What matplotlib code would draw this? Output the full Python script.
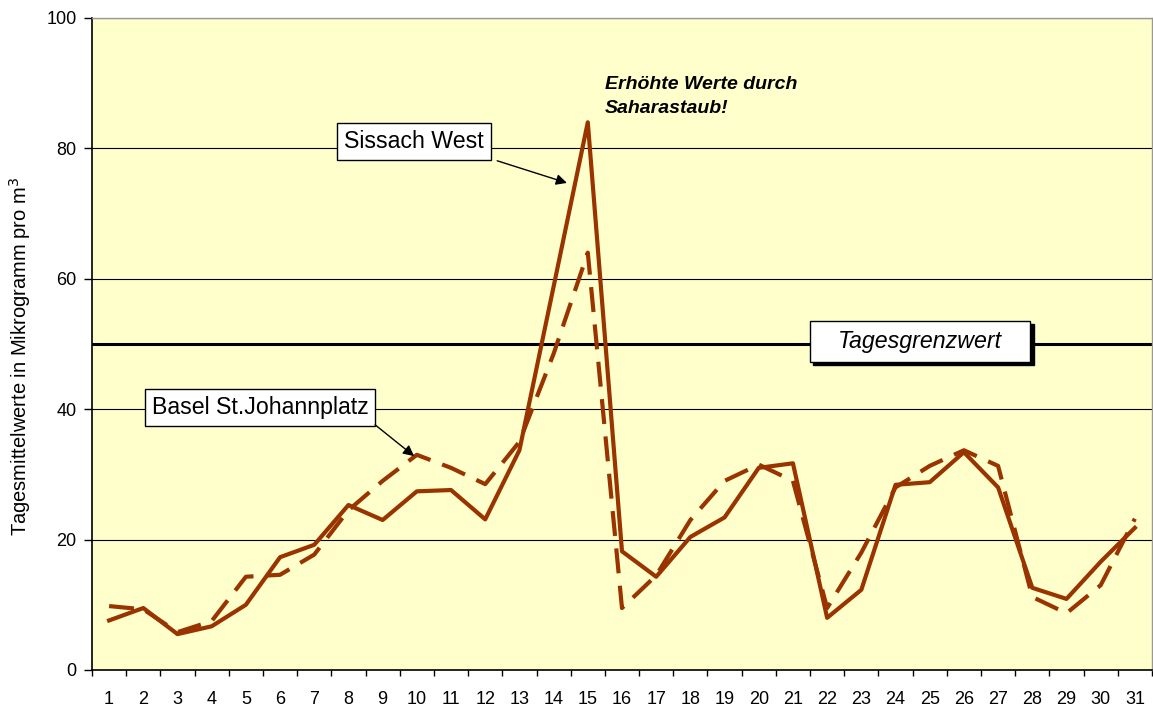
import numpy as np
import matplotlib
matplotlib.use("Agg")
import matplotlib.pyplot as plt
from matplotlib.patches import Rectangle

plt.rcParams['font.family'] = ['Liberation Sans', 'DejaVu Sans']

# Tage im Monat
tage = list(range(1, 32))

# Tagesmittelwerte (Mikrogramm pro m3)
sissach_west = [7.6, 9.5, 5.5, 6.7, 10.0, 17.3, 19.2, 25.3, 23.0, 27.4, 27.6, 23.1,
                33.7, 58.8, 84.0, 18.2, 14.3, 20.4, 23.4, 31.0, 31.7, 8.0, 12.3,
                28.4, 28.8, 33.4, 28.0, 12.6, 10.9, 16.6, 21.8]
basel_johann = [9.8, 9.3, 5.8, 7.5, 14.3, 14.6, 17.7, 24.5, 29.0, 33.0, 31.0, 28.5,
                35.0, 48.5, 64.0, 9.5, 14.5, 23.0, 29.0, 31.5, 29.0, 9.5, 18.0,
                28.0, 31.3, 33.7, 31.3, 11.2, 8.7, 13.0, 23.2]
grenzwert = 50

farbe = '#993300'

fig = plt.figure(figsize=(11.53, 7.11), dpi=100)
ax = fig.add_axes([0.0798, 0.0577, 0.9193, 0.917])
ax.set_facecolor('#FFFFCC')

ax.plot(tage, sissach_west, color=farbe, lw=3, zorder=3)
ax.plot(tage, basel_johann, color=farbe, lw=3, dashes=(6, 3), zorder=3)

# Grenzwert
ax.axhline(grenzwert, color='black', lw=2.2, zorder=2)

ax.set_xlim(0.5, 31.5)
ax.set_ylim(0, 100)
ax.set_yticks([0, 20, 40, 60, 80, 100])
ax.yaxis.grid(True, color='black', lw=0.8)
ax.set_axisbelow(True)

# Kategorien-Achse: Striche an den Grenzen, Beschriftung in der Mitte
ax.set_xticks(np.arange(0.5, 32, 1))
ax.set_xticklabels([])
ax.set_xticks(tage, minor=True)
ax.set_xticklabels([str(t) for t in tage], minor=True)
ax.tick_params(axis='x', which='minor', length=0, labelsize=13, pad=15)
ax.tick_params(axis='x', which='major', length=4.5, width=1)
ax.tick_params(axis='y', length=6, width=1, labelsize=13, pad=5)

for s in ['top', 'right']:
    ax.spines[s].set_color('#999999')
    ax.spines[s].set_linewidth(1)
for s in ['left', 'bottom']:
    ax.spines[s].set_color('black')
    ax.spines[s].set_linewidth(1.2)

ax.set_ylabel('Tagesmittelwerte in Mikrogramm pro m$^3$', fontsize=14.5)
ax.yaxis.set_label_coords(-0.056, 0.48)

box = dict(boxstyle='square,pad=0.3', fc='white', ec='black', lw=1)
pfeil = dict(arrowstyle='-|>', color='black', lw=1, shrinkA=0, shrinkB=0,
             mutation_scale=16)

ax.text(9.92, 81.0, 'Sissach West', fontsize=16.7, ha='center', va='center',
        bbox=box, zorder=6)
ax.annotate('', xy=(14.39, 74.7), xytext=(12.35, 78.1), arrowprops=pfeil, zorder=6)

ax.text(5.41, 40.3, 'Basel St.Johannplatz', fontsize=16.7, ha='center',
        va='center', bbox=box, zorder=6)
ax.annotate('', xy=(9.92, 32.8), xytext=(8.78, 37.6), arrowprops=pfeil, zorder=6)

# Grenzwert-Beschriftung: Kasten mit Schatten
ax.add_patch(Rectangle((21.6, 46.8), 6.44, 6.26, fc='black', ec='black', lw=1, zorder=4))
ax.add_patch(Rectangle((21.5, 47.24), 6.44, 6.26, fc='white', ec='black', lw=1, zorder=5))
ax.text(24.7, 50.4, 'Tagesgrenzwert', fontsize=16.7, style='italic',
        ha='center', va='center', zorder=6)

ax.text(15.5, 88.0, 'Erhöhte Werte durch\nSaharastaub!', fontsize=14,
        fontweight='bold', style='italic', ha='left', va='center', linespacing=1.55)

fig.savefig('out.png', dpi=100)
